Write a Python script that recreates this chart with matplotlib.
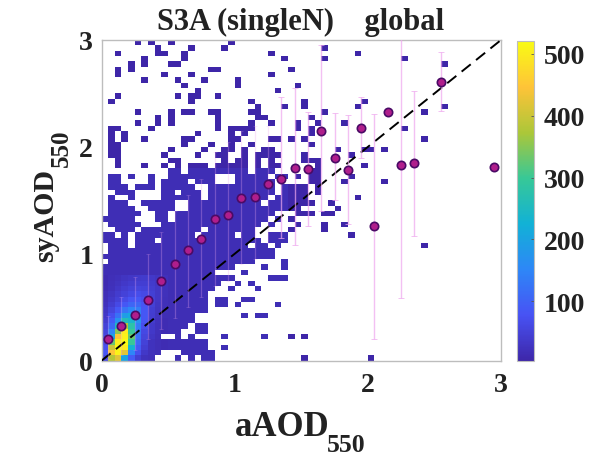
import numpy as np
import matplotlib
matplotlib.use("Agg")
import matplotlib.pyplot as plt
from matplotlib.colors import LinearSegmentedColormap

plt.rcParams['font.family'] = ['Liberation Serif', 'DejaVu Serif']
plt.rcParams['font.weight'] = 'bold'

# occupied 2-D histogram cells: row index -> column ranges (0.05 AOD bins)
OCCUPIED = {
    59: "5 7 10 19", 58: "8 13 18 33", 57: "2 8-9 12 25 38", 56: "6 12 27 33 45",
    55: "4 6 10-11 51", 54: "2 4 16-17 28", 53: "2 9 13 25", 52: "6 11 15 20",
    51: "12 20 29", 50: "14 26", 49: "2 11 13-14 17", 48: "1 13 22 30 39",
    47: "23 27 30 38 51", 46: "5 10 12-13 16-17 22-23 33 48", 45: "8 10 17 23-24 31",
    44: "5 8 10 17 22 25 29 32 36", 43: "1-2 7 17 19-22 29 31 45", 42: "1 3 14 19 21 31",
    41: "1 3 6 12-13 19-20 25-26 28 30 48", 40: "1-2 12 16 19 22 31",
    39: "1-2 10 15 18-19 21 24-25 35 39-40 42", 38: "1-2 9 14 17-18 21 23-26 30 37",
    37: "2 10-11 18 20-21 23 25 30-32", 36: "2 6 9 11 13-15 17-21 23 25-26 32 39",
    35: "10-11 13-21 23-25 31-32", 34: "1-2 4 7 10-16 20-24 26-27 29 31-32 37",
    33: "1-2 7 9-12 14-16 20-25 31-32 36 42", 32: "1-3 5-7 9-13 16-25 27-30 32",
    31: "2-4 9-10 12-14 16-25 27-30 32", 30: "1 4 9-14 16-24 26-30 38",
    29: "1-3 6-10 13-23 25-31 34", 28: "1-4 7-10 13-29 35",
    27: "1-5 8-9 11-25 29-31 33-34", 26: "0-4 8-9 11-24 26 28",
    25: "1-5 9-23 25 29 33 36", 24: "2-4 6-14 16-22 28 33",
    23: "0-1 3 5-13 15-19 21-22 25-27 37", 22: "0-3 5-7 9-23 25-27",
    21: "1-3 5-21 23-24 26 48", 20: "1-25", 19: "0-25", 18: "1-22 27",
    17: "0-19 24 27", 16: "0-16 21", 15: "0-19 25-27", 14: "0-17 20 22",
    13: "0-16 19 23", 12: "0-15", 11: "0-15 17-18 21-22", 10: "0-15 17-18 20 26",
    9: "0-15", 8: "0-13 21 23-24", 7: "0-13", 6: "0-12 14-15", 5: "0-11 14-15",
    4: "0-8 11 13 18 24 28 30", 3: "0-15", 2: "0-15 18", 1: "0-8 12-16",
    0: "0-7 11 13 15-16 30 40",
}
# counts read for the dense low-AOD corner (rows 0.., columns 0..9)
DENSE = [
    [60, 380, 420, 200, 90, 45, 25, 20, 18, 15],
    [80, 450, 510, 420, 150, 70, 35, 22, 18, 15],
    [70, 400, 520, 500, 230, 90, 45, 25, 18, 15],
    [60, 330, 500, 520, 300, 110, 50, 25, 18, 15],
    [60, 200, 450, 510, 330, 120, 55, 30, 20, 15],
    [55, 150, 350, 500, 300, 130, 60, 35, 22, 15],
    [50, 110, 250, 380, 280, 140, 70, 35, 22, 15],
    [40, 90, 170, 260, 240, 170, 80, 40, 25, 15],
    [35, 70, 120, 190, 210, 170, 85, 42, 26, 16],
    [30, 55, 85, 125, 150, 140, 85, 45, 28, 18],
    [24, 42, 62, 85, 105, 105, 80, 48, 30, 20],
    [20, 34, 48, 65, 80, 85, 70, 48, 32, 20],
    [18, 28, 40, 50, 60, 68, 62, 46, 32, 22],
    [15, 22, 32, 42, 50, 55, 52, 42, 32, 22],
    [12, 20, 26, 34, 40, 44, 44, 38, 30, 22],
    [12, 18, 22, 28, 32, 36, 38, 34, 28, 22],
]
SOLID_COUNT = 16
SPARSE_COUNT = 4
SOLID_TOP_ROW = 35
SOLID_LAST_COL = 27

bin_x = [0.05, 0.15, 0.25, 0.35, 0.45, 0.55, 0.65, 0.75, 0.85, 0.95, 1.05, 1.15, 1.25,
         1.35, 1.45, 1.55, 1.65, 1.75, 1.85, 1.95, 2.05, 2.15, 2.25, 2.35, 2.55, 2.95]
bin_y = [0.20, 0.32, 0.43, 0.57, 0.75, 0.90, 1.04, 1.14, 1.33, 1.36, 1.52, 1.53, 1.65,
         1.70, 1.80, 1.79, 2.15, 1.90, 1.785, 2.18, 1.26, 2.33, 1.83, 1.85, 2.61, 1.81]
bin_lo = [0.02, 0.05, 0.10, 0.20, 0.30, 0.40, 0.50, 0.60, 0.70, 0.75, 0.90, 0.95, 1.10,
          1.15, 1.08, 1.26, 1.40, 1.50, 1.28, 1.90, 0.20, 2.33, 0.59, 1.17, 2.34, 1.81]
bin_hi = [0.42, 0.60, 0.78, 1.00, 1.20, 1.40, 1.55, 1.70, 1.95, 2.05, 2.15, 2.20, 2.20,
          2.47, 2.55, 2.33, 2.95, 2.32, 2.30, 2.47, 2.31, 2.33, 3.05, 2.52, 2.89, 1.81]

ticks_axis = [0, 1, 2, 3]
ticks_cbar = [100, 200, 300, 400, 500]

parula = [(0.2422, 0.1504, 0.6603), (0.2810, 0.3228, 0.9579), (0.1786, 0.5289, 0.9682),
          (0.0689, 0.6948, 0.8394), (0.2161, 0.7843, 0.5923), (0.6720, 0.7793, 0.2227),
          (0.9970, 0.7659, 0.2199), (0.9769, 0.9839, 0.0805)]
cmap = LinearSegmentedColormap.from_list("parula", parula, N=256)
cmap.set_bad("white")

H = np.full((60, 60), np.nan)
for row, spec in OCCUPIED.items():
    for part in spec.split():
        a, _, b = part.partition("-")
        c0, c1 = int(a), int(b or a)
        for c in range(c0, c1 + 1):
            H[row, c] = SOLID_COUNT if row <= SOLID_TOP_ROW and c <= SOLID_LAST_COL else SPARSE_COUNT
for r, vals in enumerate(DENSE):
    for c, v in enumerate(vals):
        if not np.isnan(H[r, c]):
            H[r, c] = v

W, Ht = 604, 456
fig = plt.figure(figsize=(W / 100, Ht / 100), dpi=100, facecolor="white")
def box(l, t, r, b):
    return [l / W, 1 - b / Ht, (r - l) / W, (b - t) / Ht]

ax = fig.add_axes(box(101.5, 41, 501, 361.7))
edges = np.linspace(0, 3, 61)
mesh = ax.pcolormesh(edges, edges, np.ma.masked_invalid(H), cmap=cmap, vmin=3, vmax=521)
ax.set_xlim(0, 3)
ax.set_ylim(0, 3)
ax.grid(True, color="#ececec", lw=0.7)
ax.set_axisbelow(True)

ax.plot([0, 3], [0, 3], color="black", ls=(0, (6, 3.5)), lw=1.4, zorder=3)
bx = np.array(bin_x); by = np.array(bin_y)
yerr = np.array([by - np.array(bin_lo), np.array(bin_hi) - by])
n_faint = 13
ax.errorbar(bx[:n_faint], by[:n_faint], yerr=yerr[:, :n_faint], fmt="none",
            ecolor="#eea6ee", elinewidth=0.9, capsize=1.5, capthick=0.5, alpha=0.3, zorder=4)
ax.errorbar(bx[n_faint:], by[n_faint:], yerr=yerr[:, n_faint:], fmt="none",
            ecolor="#eea6ee", elinewidth=1.0, capsize=2.5, capthick=0.7, alpha=0.7, zorder=4)
ax.plot(bx, by, "o", ms=6, mfc="#b01e8c", mec="#4a0a66", mew=1.2, zorder=5, clip_on=False)

for s in ax.spines.values():
    s.set_color("#bdbdbd")
    s.set_linewidth(1.0)
ax.set_xticks(ticks_axis)
ax.set_yticks(ticks_axis)
ax.tick_params(direction="in", length=3, width=0.7, color="#bdbdbd", labelsize=20,
               labelcolor="#222222", pad=6)
ax.tick_params(axis="x", pad=8)
TXT = dict(fontweight="bold", color="#222222")
fig.text(235 / W, 1 - 436 / Ht, "aAOD", ha="left", va="baseline", fontsize=25, **TXT)
fig.text(327 / W, 1 - 452 / Ht, "550", ha="left", va="baseline", fontsize=18.5, **TXT)
fig.text(53 / W, 1 - 262 / Ht, "syAOD", ha="left", va="baseline", rotation=90,
         rotation_mode="anchor", fontsize=21.5, **TXT)
fig.text(68 / W, 1 - 167 / Ht, "550", ha="left", va="baseline", rotation=90,
         rotation_mode="anchor", fontsize=18, **TXT)
fig.text(301 / W, 1 - 30 / Ht, "S3A (singleN)    global", ha="center", va="baseline",
         fontsize=22, **TXT)

cax = fig.add_axes(box(517, 42, 534, 362))
cb = fig.colorbar(mesh, cax=cax)
cb.set_ticks(ticks_cbar)
cb.ax.tick_params(direction="in", length=2, width=0.6, color="#555555", labelsize=20,
                  labelcolor="#222222", pad=7)
cb.outline.set_edgecolor("#bdbdbd")
cb.outline.set_linewidth(0.8)

fig.savefig("out.png", dpi=100)
